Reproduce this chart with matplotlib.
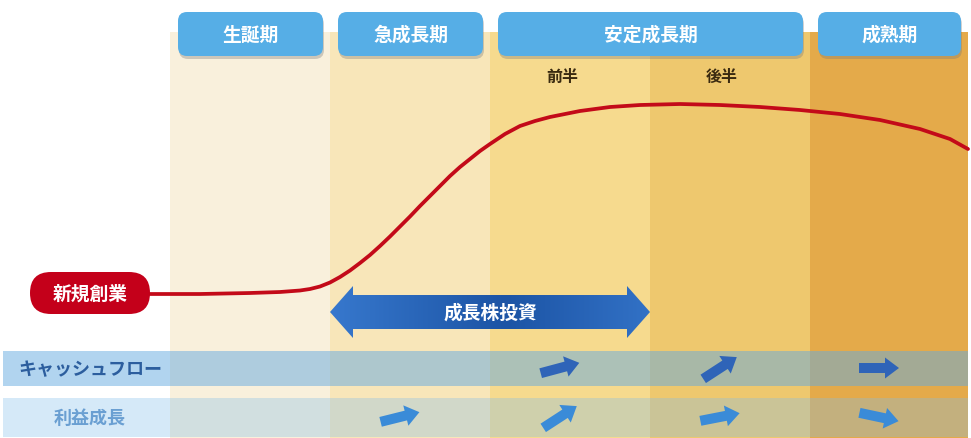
""" Company growth stages diagram (成長株投資)
"""

import matplotlib
matplotlib.use('Agg')
import matplotlib.pyplot as plt
from matplotlib.patches import FancyBboxPatch, Rectangle, Polygon, FancyArrow
import numpy as np

plt.rcParams['font.family'] = ['Noto Sans CJK JP', 'DejaVu Sans']

# stages along the top
stage_labels = ['生誕期', '急成長期', '安定成長期', '成熟期']
stage_spans = [(0, 1), (1, 2), (2, 4), (4, 5)]   # band index ranges
sub_labels = ['前半', '後半']
sub_bands = [2, 3]

# column bands (pixel x edges)
band_edges = [170, 330, 490, 650, 810, 968]
band_colors = ['#F9F0DC', '#F8E6B9', '#F6DA8E', '#EEC86E', '#E4AA4A']

# growth curve (x, y in pixels, y down)
curve_x = [150, 200, 250, 280, 300, 310, 320, 330, 340, 350, 360, 370, 380,
           390, 400, 410, 420, 430, 440, 450, 460, 470, 480, 490, 505, 520,
           535, 550, 580, 610, 640, 680, 720, 760, 800, 840, 880, 920, 950, 968]
curve_y = [295, 295, 294, 293, 291.5, 290, 287.5, 283.5, 278, 271.5, 264, 256,
           247, 237.5, 227.5, 217.5, 207, 197, 187, 177, 168, 160, 152, 145, 135,
           127, 122, 118, 112, 108, 106, 105, 106, 108, 111, 115, 121, 130, 140, 150]

start_label = '新規創業'
invest_label = '成長株投資'
invest_span = (1, 3)   # from band 1 start to band 3 start

# bottom rows: arrow angle (degrees, up is positive) per band, None = no arrow
row_labels = ['キャッシュフロー', '利益成長']
cf_angles = [None, None, 15, 33, 0]
profit_angles = [None, 14, 33, 11, -12]

W, H = 971, 439
fig = plt.figure(figsize=(W / 100, H / 100), dpi=100)
ax = fig.add_axes([0, 0, 1, 1])
ax.set_xlim(0, W)
ax.set_ylim(H, 0)
ax.axis('off')

# column bands
for i, c in enumerate(band_colors):
    ax.add_patch(Rectangle((band_edges[i], 33), band_edges[i + 1] - band_edges[i], H - 33,
                           facecolor=c, edgecolor='none', zorder=1))

# header pills
for lab, (a, b) in zip(stage_labels, stage_spans):
    x0 = band_edges[a] + 8
    x1 = band_edges[b] - 7
    ax.add_patch(FancyBboxPatch((x0 + 1, 16), x1 - x0, 44,
                                boxstyle='round,pad=0,rounding_size=9',
                                facecolor='#7a7a7a', alpha=0.35, edgecolor='none', zorder=3))
    ax.add_patch(FancyBboxPatch((x0, 13), x1 - x0, 44,
                                boxstyle='round,pad=0,rounding_size=9',
                                facecolor='#56AEE6', edgecolor='none', zorder=4))
    ax.text((x0 + x1) / 2, 35, lab, color='white', fontsize=13.5, fontweight='bold',
            ha='center', va='center', zorder=5)

for lab, b in zip(sub_labels, sub_bands):
    ax.text((band_edges[b] + band_edges[b + 1]) / 2 - 8, 77, lab, color='#3a2a10',
            fontsize=11.5, fontweight='bold', ha='center', va='center', zorder=5)

# rows overlay
ax.add_patch(Rectangle((3, 352), band_edges[-1] - 3, 35, facecolor='#64AAE1',
                       alpha=0.5, edgecolor='none', zorder=2))
ax.add_patch(Rectangle((3, 399), band_edges[-1] - 3, 39, facecolor='#82BEEB',
                       alpha=0.33, edgecolor='none', zorder=2))
ax.text(90, 369.5, row_labels[0], color='#2C5E9E', fontsize=13, fontweight='bold',
        ha='center', va='center', zorder=5)
ax.text(90, 418, row_labels[1], color='#6A9FD2', fontsize=13, fontweight='bold',
        ha='center', va='center', zorder=5)

# small arrows
L = 40
for angles, yc, col in [(cf_angles, 369, '#2F64B8'), (profit_angles, 418, '#3A8BD8')]:
    for i, ang in enumerate(angles):
        if ang is None:
            continue
        xc = (band_edges[i] + band_edges[i + 1]) / 2 - 10
        t = np.radians(ang)
        dx, dy = L * np.cos(t), -L * np.sin(t)
        ax.add_patch(FancyArrow(xc - dx / 2, yc - dy / 2, dx, dy, width=10,
                                head_width=21, head_length=14, length_includes_head=True,
                                facecolor=col, edgecolor='none', zorder=4))

# double arrow 成長株投資
xa = band_edges[invest_span[0]]
xb = band_edges[invest_span[1]]
yc, sh, hh, hl = 313, 17, 26, 23
pts = [(xa, yc), (xa + hl, yc - hh), (xa + hl, yc - sh), (xb - hl, yc - sh), (xb - hl, yc - hh),
       (xb, yc), (xb - hl, yc + hh), (xb - hl, yc + sh), (xa + hl, yc + sh), (xa + hl, yc + hh)]
arrow_poly = Polygon(pts, closed=True, facecolor='none', edgecolor='none', zorder=4)
ax.add_patch(arrow_poly)
grad = np.linspace(0, 1, 256)
grad = np.abs(grad - 0.55) / 0.55
c_mid = np.array([28, 84, 165]) / 255
c_end = np.array([55, 120, 205]) / 255
img = (c_mid[None, :] * (1 - grad[:, None]) + c_end[None, :] * grad[:, None])[None, :, :]
im = ax.imshow(img, extent=(xa, xb, yc + hh, yc - hh), aspect='auto', zorder=4)
im.set_clip_path(arrow_poly)
ax.text((xa + xb) / 2, yc, invest_label, color='white', fontsize=13.5, fontweight='bold',
        ha='center', va='center', zorder=5)

# growth curve
ax.plot(curve_x, curve_y, color='#C30A19', lw=2.7, solid_capstyle='round',
        solid_joinstyle='round', zorder=6)

# start pill
ax.add_patch(FancyBboxPatch((30, 273), 120, 42, boxstyle='round,pad=0,rounding_size=21',
                            facecolor='#C4001A', edgecolor='none', zorder=7))
ax.text(90, 294, start_label, color='white', fontsize=13.5, fontweight='bold',
        ha='center', va='center', zorder=8)

ax.set_xlim(0, W)
ax.set_ylim(H, 0)
plt.savefig('out.png', dpi=100)
